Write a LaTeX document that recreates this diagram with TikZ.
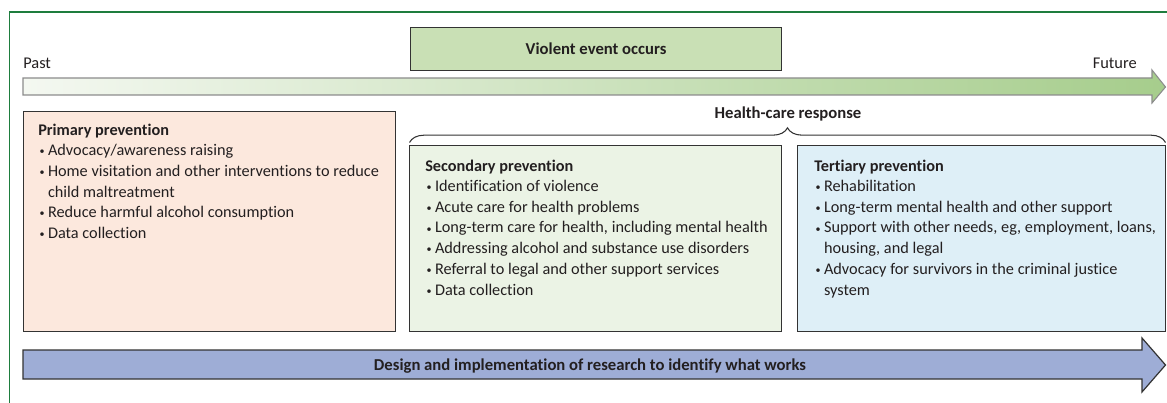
\documentclass[tikz,border=0pt]{standalone}
\usepackage{graphicx}
\usepackage{fontspec}
\setmainfont[Ligatures=NoCommon]{Carlito}
\usetikzlibrary{decorations.pathreplacing}
\definecolor{framegreen}{HTML}{1E7D3E}
\definecolor{boxline}{HTML}{333333}
\definecolor{txtcol}{HTML}{231F20}
\definecolor{primfill}{HTML}{FCE8DD}
\definecolor{secfill}{HTML}{EBF3E5}
\definecolor{tertfill}{HTML}{DEEFF7}
\definecolor{violfill}{HTML}{C9E0B5}
\definecolor{resfill}{HTML}{9EADD6}
\definecolor{tlleft}{HTML}{F4F8F1}
\definecolor{tlright}{HTML}{A6CD8C}
\definecolor{tlline}{HTML}{8C8C8C}
\newcommand{\bitem}{\makebox[0.6em][l]{\hspace{0.08em}\raisebox{0.06em}{\scalebox{0.62}{\textbullet}}}}
\newcommand{\bcont}{\hspace*{0.6em}}
\newcommand{\tightsp}{\spaceskip=0.23em\relax\xspaceskip=0.23em\relax}
\tikzset{
  box/.style={draw=boxline, line width=0.9pt, anchor=north west, inner sep=0pt},
  txt/.style={anchor=base west, inner sep=0pt, text width=330pt, align=left,
    text=txtcol, font=\fontsize{12.2}{15.5}\selectfont, execute at begin node=\tightsp},
  lbl/.style={inner sep=0pt, text=txtcol, font=\fontsize{12.3}{15.5}\selectfont},
  blbl/.style={inner sep=0pt, text=txtcol, font=\fontsize{12.5}{15.5}\selectfont\bfseries},
}
\begin{document}
\begin{tikzpicture}[x=0.75pt,y=-0.75pt]
\useasboundingbox (0,0) rectangle (1167,403);
% frame
\draw[framegreen, line width=0.8pt] (9.5,403) -- (9.5,12) -- (1167,12);
% violent event
\node[box, fill=violfill, minimum width=278.25pt, minimum height=32.25pt,
  font=\fontsize{12.5}{15.5}\selectfont\bfseries, text=txtcol] (violent) at (410,27) {Violent event occurs};
% timeline
\shadedraw[left color=tlleft, right color=tlright, draw=tlline, line width=0.8pt]
  (23,78) -- (1152,78) -- (1152,70) -- (1165.5,87) -- (1152,103) -- (1152,95) -- (23,95) -- cycle;
\node[lbl, anchor=base west] (past) at (23,69) {Past};
\node[lbl, anchor=base east] (future) at (1137,69) {Future};
% boxes
\node[box, fill=primfill, minimum width=279pt, minimum height=165pt] (prim) at (23,111) {};
\node[box, fill=secfill, minimum width=279pt, minimum height=139.5pt] (sec) at (409,145) {};
\node[box, fill=tertfill, minimum width=276pt, minimum height=139.5pt] (tert) at (797,145) {};
% brace
\draw[boxline, line width=0.8pt, decorate, decoration={brace, amplitude=11pt}] (409.5,142.5) -- (1165.5,142.5);
\node[blbl, anchor=base] (hcr) at (788,118) {Health-care response};
% texts
\node[txt] (primtxt) at (38,135) {\textbf{Primary prevention}\\
\bitem Advocacy/awareness raising\\
\bitem Home visitation and other interventions to reduce\\
\bcont child maltreatment\\
\bitem Reduce harmful alcohol consumption\\
\bitem Data collection};
\node[txt] (sectxt) at (425,171) {\textbf{Secondary prevention}\\
\bitem Identification of violence\\
\bitem Acute care for health problems\\
\bitem Long-term care for health, including mental health\\
\bitem Addressing alcohol and substance use disorders\\
\bitem Referral to legal and other support services\\
\bitem Data collection};
\node[txt] (terttxt) at (814,171) {\textbf{Tertiary prevention}\\
\bitem Rehabilitation\\
\bitem Long-term mental health and other support\\
\bitem Support with other needs, eg, employment, loans,\\
\bcont housing, and legal\\
\bitem Advocacy for survivors in the criminal justice\\
\bcont system};
% research arrow
\draw[fill=resfill, draw=boxline, line width=0.9pt]
  (23,350) -- (1142,350) -- (1142,338) -- (1165.5,365) -- (1142,392) -- (1142,379) -- (23,379) -- cycle;
\node[blbl] (research) at (590,366) {Design and implementation of research to identify what works};
\end{tikzpicture}
\end{document}
